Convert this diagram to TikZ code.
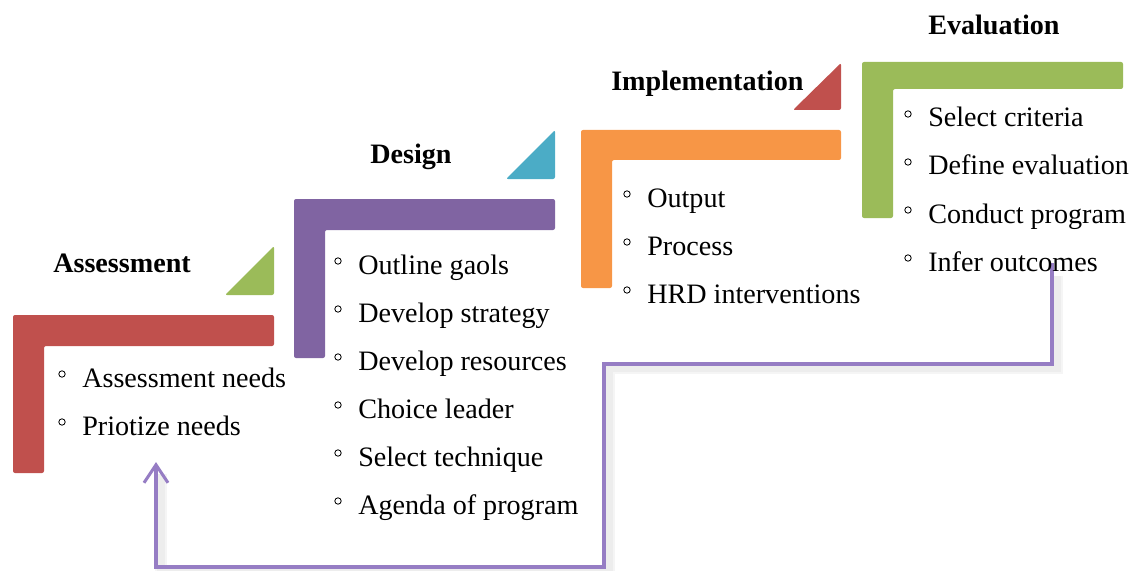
\documentclass[tikz,border=0pt]{standalone}
\usepackage{fontspec}
\setmainfont{Liberation Serif}
\usepackage{xcolor}
\usepackage{tikz}
\usetikzlibrary{arrows.meta}

\definecolor{stepRed}{HTML}{C0504D}
\definecolor{stepGreen}{HTML}{9BBB59}
\definecolor{stepPurple}{HTML}{8064A2}
\definecolor{stepBlue}{HTML}{4BACC6}
\definecolor{stepOrange}{HTML}{F79646}
\definecolor{loopLilac}{RGB}{150,125,196}

\begin{document}
\begin{tikzpicture}[
  x=0.025cm, y=-0.025cm,
  stepBar/.style={rounded corners=0.05cm},
  phaseTitle/.style={anchor=base west, inner sep=0pt,
                     font=\fontsize{20}{24}\selectfont\bfseries},
  item/.style={anchor=base west, inner sep=0pt,
               font=\fontsize{20}{24}\selectfont},
  bul/.style={circle, draw, inner sep=0pt, minimum size=0.16cm,
              line width=0.6pt},
  >=Stealth
]
  \useasboundingbox (0,0) rectangle (1129,571);

  % feedback loop, with its soft shadow
  \coordinate (fbStart) at (1052,263);
  \coordinate (fbEnd) at (156,462);
  \begin{scope}[shift={(5,4)}]
    \draw[black!4, line width=9pt] (1052,272) |- (604,364) |- (156,567) -- (156,470);
    \draw[black!7, line width=5pt] (1052,272) |- (604,364) |- (156,567) -- (156,470);
  \end{scope}
  \draw[loopLilac, line width=2.4pt, -{Straight Barb[length=0.45cm, width=0.6cm, line width=2.2pt]}]
    (fbStart) |- (604,364) |- (156,567) -- (fbEnd);

  % steps
  \fill[stepBar, stepRed] (13,315) -- (274,315) -- (274,346) -- (44,346)
    -- (44,473) -- (13,473) -- cycle;
  \fill[stepBar, stepGreen] (274,246) -- (274,295) -- (225,295) -- cycle;

  \fill[stepBar, stepPurple] (294,199) -- (555,199) -- (555,230) -- (325,230)
    -- (325,358) -- (294,358) -- cycle;
  \fill[stepBar, stepBlue] (555,130) -- (555,179) -- (506,179) -- cycle;

  \fill[stepBar, stepOrange] (581,130) -- (841,130) -- (841,160) -- (612,160)
    -- (612,288) -- (581,288) -- cycle;
  \fill[stepBar, stepRed] (841,63) -- (841,110) -- (793,110) -- cycle;

  \fill[stepBar, stepGreen] (862,62) -- (1123,62) -- (1123,89) -- (893,89)
    -- (893,218) -- (862,218) -- cycle;

  % phase titles
  \node[phaseTitle] (assess) at (53,272) {Assessment};
  \node[phaseTitle] (design) at (370,164) {Design};
  \node[phaseTitle] (implem) at (611,91) {Implementation};
  \node[phaseTitle] (evalu) at (928,35) {Evaluation};

  % bullet lists
  \foreach \txt [count=\i] in {Assessment needs, Priotize needs} {
    \node[item] (a\i) at (82,339+48*\i) {\txt};
    \node[bul] at (62,326+48*\i) {};
  }
  \foreach \txt [count=\i] in {Outline gaols, Develop strategy,
      Develop resources, Choice leader, Select technique, Agenda of program} {
    \node[item] (d\i) at (358,226+48*\i) {\txt};
    \node[bul] at (338,213+48*\i) {};
  }
  \foreach \txt [count=\i] in {Output, Process, HRD interventions} {
    \node[item] (m\i) at (647,159+48*\i) {\txt};
    \node[bul] at (627,146+48*\i) {};
  }
  \foreach \txt [count=\i] in {Select criteria, Define evaluation,
      Conduct program, Infer outcomes} {
    \node[item] (e\i) at (928,79+48*\i) {\txt};
    \node[bul] at (908,66+48*\i) {};
  }
\end{tikzpicture}
\end{document}
